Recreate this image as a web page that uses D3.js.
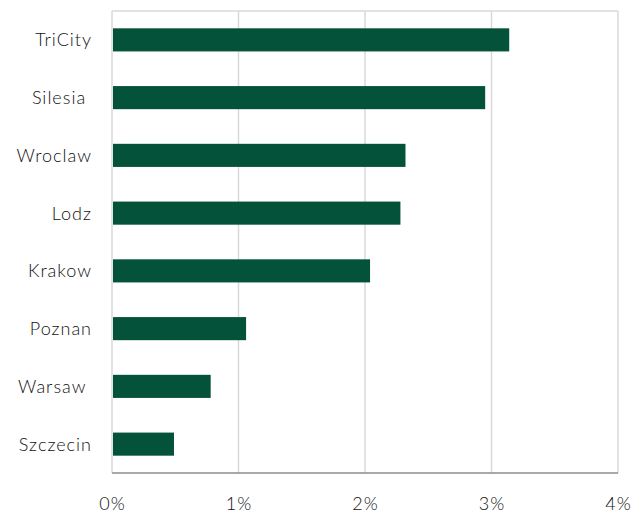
<!DOCTYPE html>
<html><head><meta charset="utf-8">
<script src="https://cdn.jsdelivr.net/npm/d3@7"></script>
<style>
html,body{margin:0;padding:0;background:#fff;}
text{font-family:Lato,"Open Sans",sans-serif;font-weight:300;fill:#111;white-space:pre;letter-spacing:1px;}
</style></head>
<body>
<svg id="chart" width="633" height="515"></svg>
<script>
const categories = ["TriCity","Silesia ","Wroclaw","Lodz","Krakow","Poznan","Warsaw ","Szczecin"];
const values = [3.14, 2.95, 2.32, 2.28, 2.04, 1.06, 0.78, 0.49];
const xTicks = [0, 1, 2, 3, 4];
const xTickLabels = ["0%","1%","2%","3%","4%"];

const svg = d3.select("#chart");
const m = {left:112, right:15, top:11, bottom:42};
const W = 633, H = 515;
const x = d3.scaleLinear().domain([0,4]).range([m.left, W - m.right]);
const y = d3.scaleBand().domain(categories).range([m.top, H - m.bottom]).paddingInner(0.6).paddingOuter(0.3);

// grid
svg.append("g").selectAll("line").data(xTicks).join("line")
  .attr("x1", d => x(d)).attr("x2", d => x(d))
  .attr("y1", m.top).attr("y2", H - m.bottom)
  .attr("stroke", "#d9d9d9").attr("stroke-width", 1.5);
// top border
svg.append("line").attr("x1", x(0)).attr("x2", x(4)).attr("y1", m.top).attr("y2", m.top)
  .attr("stroke", "#d9d9d9").attr("stroke-width", 1.5);

// bars
svg.append("g").selectAll("rect").data(values).join("rect")
  .attr("x", x(0) + 1)
  .attr("y", (d,i) => y(categories[i]))
  .attr("width", d => x(d) - x(0) - 1)
  .attr("height", y.bandwidth())
  .attr("fill", "#04523a");

// bottom axis line
svg.append("line").attr("x1", x(0)).attr("x2", x(4)).attr("y1", H - m.bottom).attr("y2", H - m.bottom)
  .attr("stroke", "#8c8c8c").attr("stroke-width", 1.5);

// x tick labels
svg.append("g").selectAll("text").data(xTicks).join("text")
  .attr("x", d => x(d) + 0.5).attr("y", 510)
  .attr("text-anchor", "middle")
  .attr("font-size", 18)
  .text((d,i) => xTickLabels[i]);

// category labels
svg.append("g").selectAll("text").data(categories).join("text")
  .attr("x", 92).attr("y", d => y(d) + y.bandwidth()/2)
  .attr("dy", "0.36em")
  .attr("text-anchor", "end")
  .attr("font-size", 18)
  .text(d => d);
</script>
</body></html>
